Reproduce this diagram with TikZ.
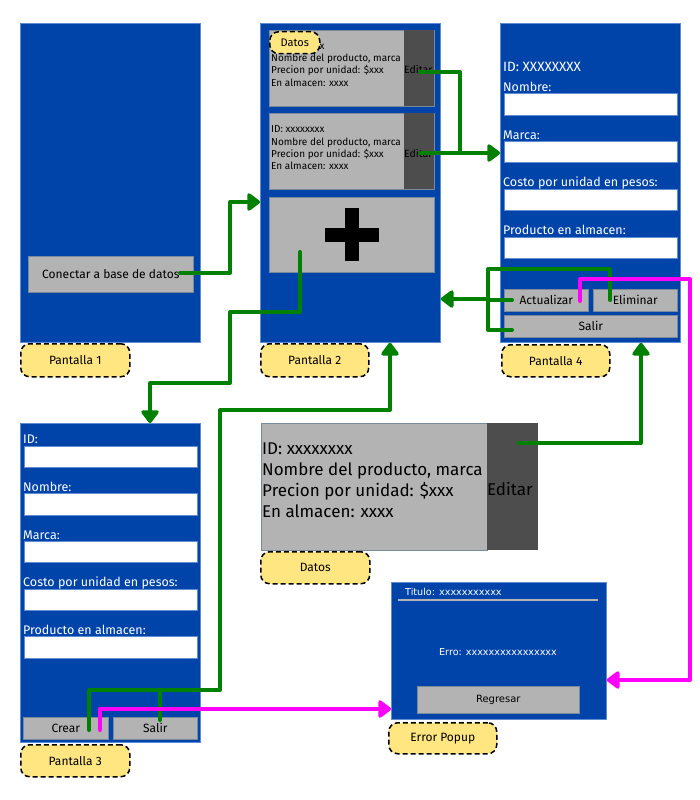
\documentclass[tikz,border=0pt]{standalone}
\usepackage{fontspec}
\setmainfont{Fira Sans}
\newfontfamily\dejavu{DejaVu Sans}
\usetikzlibrary{arrows.meta}
\definecolor{scrblue}{HTML}{0044AA}
\definecolor{scredge}{HTML}{5F8DD3}
\definecolor{btngray}{HTML}{B3B3B3}
\definecolor{btnedge}{HTML}{7A8A9A}
\definecolor{darkgray}{HTML}{4D4D4D}
\definecolor{tagyellow}{HTML}{FFE680}
\definecolor{lgreen}{HTML}{008000}
\definecolor{lmag}{HTML}{FF00FF}
\begin{document}
\begin{tikzpicture}[x=1pt,y=-1pt,
  screen/.style={fill=scrblue, draw=scredge, line width=0.8pt, anchor=north west, inner sep=0pt},
  field/.style={fill=white, draw=scredge, line width=0.6pt, anchor=north west, inner sep=0pt, minimum width=173pt},
  btn/.style={fill=btngray, draw=btnedge, line width=0.6pt, anchor=north west, inner sep=0pt, text=black, font=\fontsize{12}{14}\selectfont},
  darkbtn/.style={fill=darkgray, draw=none, anchor=north west, inner sep=0pt},
  tag/.style={fill=tagyellow, draw=black, dash pattern=on 5pt off 3pt, line width=1.5pt, rounded corners=9pt, anchor=north west, inner sep=0pt, text=black, font=\fontsize{12}{14}\selectfont},
  flabel/.style={text=white, anchor=base west, inner sep=0pt, font=\fontsize{12.5}{14}\selectfont},
  cardtxt/.style={text=black, anchor=base west, inner sep=0pt, font=\fontsize{10}{12}\selectfont},
  bigtxt/.style={text=black, anchor=base west, inner sep=0pt, font=\fontsize{17}{20}\selectfont},
  poptxt/.style={text=white, inner sep=0pt, font=\dejavu\fontsize{9.6}{11}\selectfont},
  g/.style={draw=lgreen, line width=4pt, line cap=round, line join=round},
  m/.style={draw=lmag, line width=4pt, line cap=round, line join=round},
  ga/.style={g, -{Triangle[width=20pt,length=14pt,round]}},
  ma/.style={m, -{Triangle[width=20pt,length=14pt,round]}}
]
\useasboundingbox (0,0) rectangle (700,800);

% ---------- Pantalla 1 ----------
\node[screen, minimum width=180pt, minimum height=319pt] (p1) at (20,23) {};
\node[btn, minimum width=165pt, minimum height=36pt] (bcon) at (28,256) {Conectar a base de datos};
\node[tag, minimum width=109pt, minimum height=33pt] (t1) at (20,343) {Pantalla 1};

% ---------- Pantalla 2 ----------
\node[screen, minimum width=180pt, minimum height=319pt] (p2) at (260,23) {};
\node[btn, minimum width=165pt, minimum height=76pt] (card1) at (269,30) {};
\node[darkbtn, minimum width=30pt, minimum height=76pt] (ed1) at (404,30) {};
\node[btn, minimum width=165pt, minimum height=76pt] (card2) at (269,113) {};
\node[darkbtn, minimum width=30pt, minimum height=76pt] (ed2) at (404,113) {};
\node[btn, minimum width=165pt, minimum height=75pt] (plus) at (269,197) {};
\fill[black] (325,228) rectangle (379,242);
\fill[black] (345,208) rectangle (359,261);
\node[cardtxt] (c1a) at (271,49.5) {ID: xxxxxxxx};
\node[cardtxt] (c1b) at (271,62) {Nombre del producto, marca};
\node[cardtxt] (c1c) at (271,74) {Precion por unidad: \$xxx};
\node[cardtxt] (c1d) at (271,86) {En almacen: xxxx};
\node[cardtxt, font=\fontsize{10.5}{12}\selectfont] (e1) at (404,73.5) {Editar};
\node[cardtxt] (c2a) at (271,132.5) {ID: xxxxxxxx};
\node[cardtxt] (c2b) at (271,145) {Nombre del producto, marca};
\node[cardtxt] (c2c) at (271,157) {Precion por unidad: \$xxx};
\node[cardtxt] (c2d) at (271,169) {En almacen: xxxx};
\node[cardtxt, font=\fontsize{10.5}{12}\selectfont] (e2) at (404,157) {Editar};
\node[tag, minimum width=50pt, minimum height=22pt, font=\fontsize{11}{13}\selectfont] (tdat) at (269,31) {Datos};
\node[tag, minimum width=108pt, minimum height=33pt] (t2) at (260,343) {Pantalla 2};

% ---------- Pantalla 4 ----------
\node[screen, minimum width=180pt, minimum height=319pt] (p4) at (500,23) {};
\node[flabel, font=\fontsize{13.5}{15}\selectfont] (id4) at (503,71.5) {ID: XXXXXXXX};
\node[flabel] (l4a) at (503,91.5) {Nombre:};
\node[field, minimum height=22pt] (f4a) at (504,93) {};
\node[flabel] (l4b) at (503,139) {Marca:};
\node[field, minimum height=21pt] (f4b) at (504,141) {};
\node[flabel] (l4c) at (503,186.5) {Costo por unidad en pesos:};
\node[field, minimum height=21pt] (f4c) at (504,189) {};
\node[flabel] (l4d) at (503,234) {Producto en almacen:};
\node[field, minimum height=21pt] (f4d) at (504,237) {};
\node[btn, minimum width=84pt, minimum height=22pt] (bact) at (504,289) {Actualizar};
\node[btn, minimum width=84pt, minimum height=22pt] (belim) at (593,289) {Eliminar};
\node[btn, minimum width=173pt, minimum height=22pt] (bsal4) at (504,315) {Salir};
\node[tag, minimum width=108pt, minimum height=32pt] (t4) at (501,344) {Pantalla 4};

% ---------- Pantalla 3 ----------
\node[screen, minimum width=180pt, minimum height=319pt] (p3) at (20,423) {};
\node[flabel] (l3a) at (23,443) {ID:};
\node[field, minimum height=21pt] (f3a) at (24,446) {};
\node[flabel] (l3b) at (23,491) {Nombre:};
\node[field, minimum height=22pt] (f3b) at (24,493) {};
\node[flabel] (l3c) at (23,539) {Marca:};
\node[field, minimum height=21pt] (f3c) at (24,541) {};
\node[flabel] (l3d) at (23,586.5) {Costo por unidad en pesos:};
\node[field, minimum height=21pt] (f3d) at (24,589) {};
\node[flabel] (l3e) at (23,634) {Producto en almacen:};
\node[field, minimum height=22pt] (f3e) at (24,636) {};
\node[btn, minimum width=85pt, minimum height=22pt] (bcrear) at (23,717) {Crear};
\node[btn, minimum width=84pt, minimum height=22pt] (bsal3) at (113,717) {Salir};
\node[tag, minimum width=109pt, minimum height=32pt] (t3) at (20,744) {Pantalla 3};

% ---------- Datos (big) ----------
\node[btn, minimum width=226pt, minimum height=127pt] (bigcard) at (261,423) {};
\node[darkbtn, minimum width=51pt, minimum height=127pt] (biged) at (487,423) {};
\node[bigtxt] (ba) at (262,454.5) {ID: xxxxxxxx};
\node[bigtxt] (bb) at (262,475.5) {Nombre del producto, marca};
\node[bigtxt] (bc) at (262,496.5) {Precion por unidad: \$xxx};
\node[bigtxt] (bd) at (262,517.5) {En almacen: xxxx};
\node[bigtxt] (be) at (487,495.5) {Editar};
\node[tag, minimum width=109pt, minimum height=32pt] (tdb) at (260,551) {Datos};

% ---------- Error popup ----------
\node[screen, minimum width=215pt, minimum height=137pt] (ep) at (391,582) {};
\node[poptxt, anchor=base west] (etit) at (405,595.5) {Titulo: xxxxxxxxxxx};
\draw[btngray, line width=2pt] (398,600) -- (598,600);
\node[poptxt, anchor=base] (eerr) at (498,655) {Erro: xxxxxxxxxxxxxxxx};
\node[btn, minimum width=162pt, minimum height=27pt, font=\dejavu\fontsize{10}{12}\selectfont] (breg) at (417,686) {Regresar};
\node[tag, minimum width=108pt, minimum height=31pt] (tep) at (388,722) {Error Popup};

% ---------- connector start points ----------
\coordinate (s1) at (180,273);
\coordinate (sPlus) at (300,252);
\coordinate (sEd1) at (420,72);
\coordinate (sEd2) at (420,153);
\coordinate (sAct) at (512,300);
\coordinate (sSal4) at (512,330);
\coordinate (sElim) at (610,300);
\coordinate (sCrG) at (89,730);
\coordinate (sSal3) at (160,720);
\coordinate (sEdB) at (519,443);
\coordinate (sActM) at (580,301);
\coordinate (sCrM) at (100,730);

% ---------- green connectors ----------
\draw[ga] (s1) -| (230,202) -- (p2.west |- 0,202);
\draw[ga] (sPlus) -- (300,312) -| (230,383) -| (p3.north -| 150,0);
\draw[g] (sEd1) -| (460,153);
\draw[ga] (sEd2) -- (p4.west |- 0,153);
\draw[g] (sAct) -- (488,300);
\draw[g] (sSal4) -| (488,269) -| (sElim);
\draw[ga] (488,299) -- (p2.east |- 0,299);
\draw[ga] (sCrG) |- (220,690) |- (390,410) -- (p2.south -| 390,0);
\draw[g] (sSal3) -- (160,690);
\draw[ga] (sEdB) -| (p4.south -| 641,0);

% ---------- magenta connectors ----------
\draw[ma] (sActM) |- (690,279) |- (ep.east |- 0,680);
\draw[ma] (sCrM) |- (ep.west |- 0,709);
\end{tikzpicture}
\end{document}
